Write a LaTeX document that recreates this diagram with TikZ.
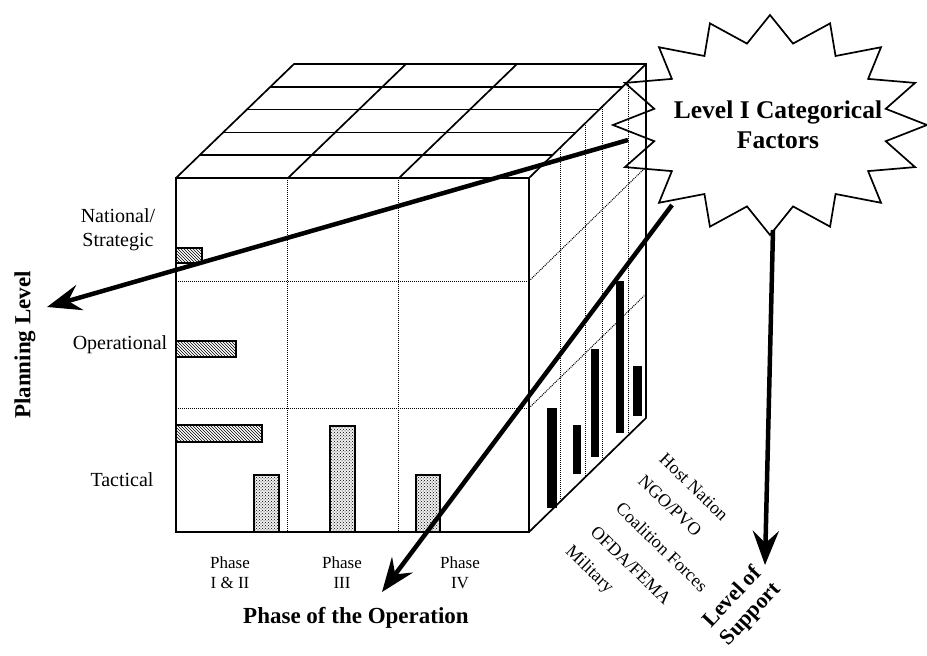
\documentclass[tikz,border=0pt]{standalone}
\usepackage{fontspec}
\setmainfont{Liberation Serif}
\usepackage{tikz}
\usetikzlibrary{arrows.meta,patterns}

\tikzset{
  cubeline/.style={line width=1.7pt},
  gridline/.style={line width=1pt, densely dotted},
  hatchbar/.style={draw, line width=1.2pt, pattern=north west lines},
  dotbar/.style={draw, line width=1.2pt, fill=gray!12, postaction={pattern=crosshatch dots}},
  supportbar/.style={fill=black},
  bigarrow/.style={line width=4.5pt, -{Stealth[length=34pt,width=26pt,inset=12pt]}},
  rowlabel/.style={font=\fontsize{20}{24}\selectfont, align=center},
  phaselabel/.style={font=\fontsize{17}{20}\selectfont, align=center},
  agencylabel/.style={font=\fontsize{18}{22}\selectfont, rotate=-44},
  axislabel/.style={font=\bfseries\fontsize{23}{26}\selectfont, align=center}
}

\begin{document}
\begin{tikzpicture}[x=1pt,y=-1pt]
\useasboundingbox (0,0) rectangle (927,656);

% dotted grid on the front and side faces
\draw[gridline] (176,281) -- (529,281) (176,408) -- (529,408);
\draw[gridline] (287,178) -- (287,532) (398,178) -- (398,532);
\foreach \x in {560,585,602,628}
  \draw[gridline] (\x,{178-(\x-529)*114/117}) -- (\x,{532-(\x-529)*114/117});
\draw[gridline] (529,281) -- (646,167) (529,408) -- (646,294);

% bars
\draw[hatchbar] (176,248) rectangle (202,263);
\draw[hatchbar] (176,341) rectangle (236,357);
\draw[hatchbar] (176,425) rectangle (262,442);
\draw[dotbar] (254,475) rectangle (279,532);
\draw[dotbar] (330,426) rectangle (355,532);
\draw[dotbar] (416,475) rectangle (440,532);
\fill[supportbar] (547,408) rectangle (557,508);
\fill[supportbar] (573,425) rectangle (581,474);
\fill[supportbar] (591,349) rectangle (599,457);
\fill[supportbar] (616,281) rectangle (624,433);
\fill[supportbar] (633,366) rectangle (642,416);

% cube
\draw[cubeline] (176,178) rectangle (529,532);
\draw[cubeline] (176,178) -- (294,64) -- (646,64) -- (646,418) -- (529,532);
\draw[cubeline] (529,178) -- (646,64);
\foreach \k in {1,...,4}
  \draw[cubeline] ({176+118*\k/5},{178-114*\k/5}) -- ({529+117*\k/5},{178-114*\k/5});
\foreach \x in {288,399}
  \draw[cubeline] (\x,178) -- ++(118,-114);

% starburst
\draw[cubeline] plot[variable=\i, samples at={0,...,31}]
  ({770+(137.5+19.5*cos(180*\i))*cos(90+11.25*\i)},
   {125-(96.5+13.5*cos(180*\i))*sin(90+11.25*\i)}) -- cycle;
\node[axislabel, font=\bfseries\fontsize{25.5}{30}\selectfont] (factors) at (778,125) {Level I Categorical\\Factors};

% arrows
\coordinate (planStart) at (628,140);
\coordinate (planTip) at (47,307);
\coordinate (phaseStart) at (672,205);
\coordinate (phaseTip) at (382,592);
\coordinate (supportStart) at (773,230);
\coordinate (supportTip) at (765,565);
\draw[bigarrow] (planStart) -- (planTip);
\draw[bigarrow] (phaseStart) -- (phaseTip);
\draw[bigarrow] (supportStart) -- (supportTip);

% labels
\node[rowlabel] (national) at (118,230) {National/\\Strategic};
\node[rowlabel] (operational) at (120,345) {Operational};
\node[rowlabel] (tactical) at (122,480) {Tactical};
\node[phaselabel] (phaseA) at (230,573) {Phase\\I \& II};
\node[phaselabel] (phaseB) at (342,573) {Phase\\III};
\node[phaselabel] (phaseC) at (460,573) {Phase\\IV};
\node[axislabel] (phaseop) at (356,618) {Phase of the Operation};
\node[axislabel, rotate=90] (planning) at (25,345) {Planning Level};
\node[axislabel, font=\bfseries\fontsize{22}{25}\selectfont, rotate=47] (support) at (742,606) {Level of\\Support};
\node[agencylabel] (host) at (694,487) {Host Nation};
\node[agencylabel] (ngo) at (670,506) {NGO/PVO};
\node[agencylabel] (coalition) at (662,547) {Coalition Forces};
\node[agencylabel] (ofda) at (631,565) {OFDA/FEMA};
\node[agencylabel] (military) at (589,570) {Military};
\end{tikzpicture}
\end{document}
